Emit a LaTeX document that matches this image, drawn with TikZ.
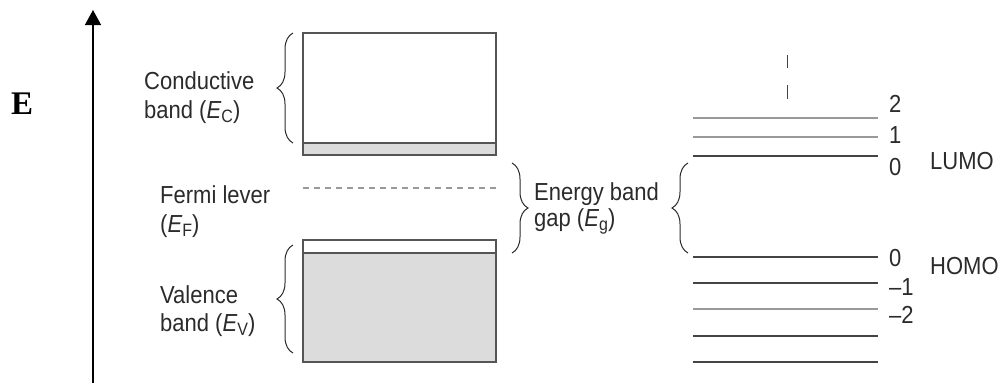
\documentclass[tikz,border=0pt]{standalone}
\usepackage{fontspec}
\usepackage{graphicx}
\setmainfont{Liberation Sans}
\newfontfamily\serifbf{Liberation Serif}
\usetikzlibrary{arrows.meta,decorations.pathreplacing}
\definecolor{txt}{HTML}{2B2B2B}
\definecolor{boxline}{HTML}{555555}
\definecolor{bandfill}{HTML}{DCDCDC}
\definecolor{lightlevel}{HTML}{999999}
\definecolor{darklevel}{HTML}{444444}
\newcommand{\sub}[1]{\raisebox{-0.35ex}{\fontsize{16}{16}\selectfont #1}}
\newcommand{\tx}[1]{\scalebox{1}[1.12]{#1}}
\tikzset{
  lbl/.style={anchor=base west, inner sep=0pt, text=txt, font=\fontsize{22}{22}\selectfont},
  bandbox/.style={draw=boxline, line width=1.4pt},
  curly/.style={draw=txt, line width=1pt, decorate, decoration={brace, amplitude=16pt}},
  lvl/.style={draw=darklevel, line width=1.3pt},
  lvllight/.style={draw=lightlevel, line width=1.8pt},
}
\begin{document}
\begin{tikzpicture}[x=1pt,y=-1pt]
\useasboundingbox (0,0) rectangle (1002,386);
% energy axis
\coordinate (axb) at (93,383);
\coordinate (axt) at (93,10);
\draw[line width=1.3pt, -{Triangle[width=16pt,length=15pt]}] (axb) -- (axt);
\node[anchor=base west, inner sep=0pt, font=\serifbf\bfseries\fontsize{33}{33}\selectfont] (E) at (11,114) {E};

% conduction band
\fill[bandfill] (303,143) rectangle (496,155);
\draw[bandbox] (303,33) rectangle (496,155);
\draw[bandbox] (303,143) -- (496,143);
% valence band
\fill[bandfill] (303,253) rectangle (496,362);
\draw[bandbox] (303,240) rectangle (496,362);
\draw[bandbox] (303,253) -- (496,253);
% Fermi level
\draw[draw=lightlevel, line width=1.4pt, dash pattern=on 6pt off 5pt] (303,188) -- (496,188);

% braces
\draw[curly] (293,143) -- (293,33);
\draw[curly] (293,353) -- (293,245);
\draw[curly] (512,163) -- (512,253);
\draw[curly] (688,253) -- (688,163);

% labels left
\node[lbl] (cb1) at (144,89) {\tx{Conductive}};
\node[lbl] (cb2) at (144,118) {\tx{band (\textit{E}\sub{C})}};
\node[lbl] (fl1) at (160,203) {\tx{Fermi lever}};
\node[lbl] (fl2) at (160,232) {\tx{(\textit{E}\sub{F})}};
\node[lbl] (vb1) at (160,303) {\tx{Valence}};
\node[lbl] (vb2) at (160,331) {\tx{band (\textit{E}\sub{V})}};
\node[lbl] (eg1) at (534,200) {\tx{Energy band}};
\node[lbl] (eg2) at (534,226) {\tx{gap (\textit{E}\sub{g})}};

% molecular levels
\draw[lvllight] (693,118) -- (878,118);
\draw[lvllight] (693,137) -- (878,137);
\draw[lvl] (693,156) -- (878,156);
\draw[lvl] (693,257) -- (878,257);
\draw[lvl] (693,283) -- (878,283);
\draw[lvllight] (693,309) -- (878,309);
\draw[lvl] (693,336) -- (878,336);
\draw[lvl] (693,362) -- (878,362);
% dashes above
\draw[draw=darklevel, line width=1pt] (787,55) -- (787,68);
\draw[draw=darklevel, line width=1pt] (787,85) -- (787,99);

\node[lbl] (n2) at (889,112) {\tx{2}};
\node[lbl] (n1) at (889,143) {\tx{1}};
\node[lbl] (n0u) at (889,175) {\tx{0}};
\node[lbl] (lumo) at (930,169) {\tx{LUMO}};
\node[lbl] (n0h) at (889,266) {\tx{0}};
\node[lbl] (homo) at (930,274) {\tx{HOMO}};
\node[lbl] (nm1) at (889,295) {\tx{\char"2013 1}};
\node[lbl] (nm2) at (889,323) {\tx{\char"2013 2}};
\end{tikzpicture}
\end{document}
